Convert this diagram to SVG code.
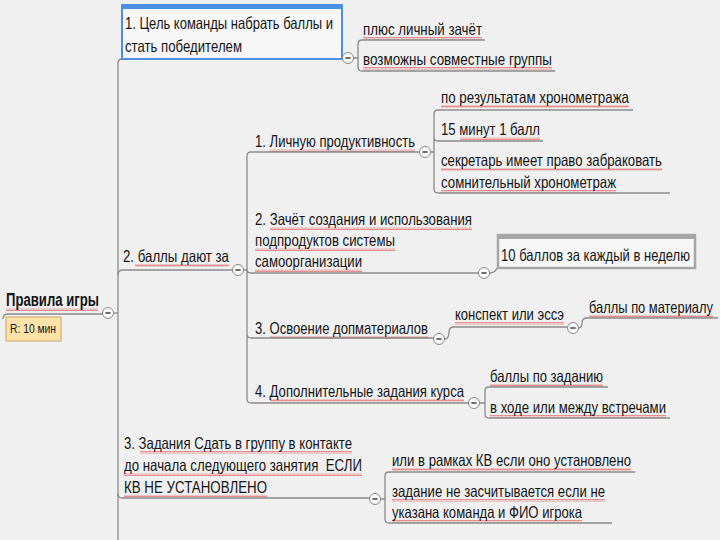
<svg xmlns="http://www.w3.org/2000/svg" width="720" height="540" viewBox="0 0 720 540">
<style>
text{font-family:"Liberation Sans",Arial,sans-serif;font-size:16.5px;fill:#141414}
.b{font-weight:bold;font-size:17.5px}
.s{font-size:12px}
.c{fill:none;stroke:#8a8a8a;stroke-width:1.3}
.t{fill:#fafafa;stroke:#8a8a8a;stroke-width:1}
.m{stroke:#333;stroke-width:1.4}
.w{fill:url(#wv)}
</style>
<defs>
<g id="tg"><circle class="t" cx="0" cy="0" r="5.5"/><line class="m" x1="-2.6" y1="0" x2="2.6" y2="0"/></g>
<pattern id="wv" width="4" height="3" patternUnits="userSpaceOnUse"><path d="M0 2.5 L1 0.5 L2 2.5 L3 0.5 L4 2.5" fill="none" stroke="#e04040" stroke-width="0.7" opacity="0.8"/></pattern>
</defs>
<rect width="720" height="540" fill="#f0f0f0"/>
<g id="spellmarks">
<rect class="w" x="6" y="308" width="92" height="3"/>
<rect class="w" x="140" y="31" width="195" height="3"/>
<rect class="w" x="125" y="54" width="117" height="3"/>
<rect class="w" x="363" y="37" width="119" height="3"/>
<rect class="w" x="363" y="67" width="189" height="3"/>
<rect class="w" x="135" y="264" width="94" height="3"/>
<rect class="w" x="270" y="149" width="145" height="3"/>
<rect class="w" x="441" y="105" width="188" height="3"/>
<rect class="w" x="460" y="137" width="80" height="3"/>
<rect class="w" x="441" y="168" width="221" height="3"/>
<rect class="w" x="441" y="190" width="175" height="3"/>
<rect class="w" x="270" y="227" width="202" height="3"/>
<rect class="w" x="255" y="248" width="140" height="3"/>
<rect class="w" x="255" y="269" width="107" height="3"/>
<rect class="w" x="520" y="263" width="170" height="3"/>
<rect class="w" x="270" y="336" width="158" height="3"/>
<rect class="w" x="455" y="322" width="109" height="3"/>
<rect class="w" x="589" y="315" width="124" height="3"/>
<rect class="w" x="270" y="399" width="194" height="3"/>
<rect class="w" x="490" y="384" width="113" height="3"/>
<rect class="w" x="490" y="415" width="176" height="3"/>
<rect class="w" x="140" y="451" width="212" height="3"/>
<rect class="w" x="124" y="473" width="238" height="3"/>
<rect class="w" x="124" y="495" width="143" height="3"/>
<rect class="w" x="392" y="468" width="239" height="3"/>
<rect class="w" x="392" y="499" width="213" height="3"/>
<rect class="w" x="392" y="520" width="190" height="3"/>
</g>
<g id="connectors">
<path class="c" d="M122 59 Q118 59 118 63 L118 540"/>
<path class="c" d="M113.5 313 L118 313"/>
<path class="c" d="M3 319 Q3 314 8 314 L103 314"/>
<path class="c" d="M353.5 58 L358 58 M362 40 Q358 40 358 44 L358 67 Q358 71 362 71 M362 40 L485 40 M362 71 L555 71"/>
<path class="c" d="M118 275 Q118 270 123 270 L232.5 270"/>
<path class="c" d="M243.5 270 L247 270 M251 152 Q247 152 247 156 L247 399 Q247 403 251 403 L468.5 403 M251 152 L419.5 152 M247 269 Q247 273 251 273 L478.5 273 M247 334 Q247 338 251 338 L433.5 338"/>
<path class="c" d="M430.5 152 L434 152 M438 110 Q434 110 434 114 L434 189 Q434 193 438 193 L670 193 M438 110 L633 110 M434 137 Q434 141 438 141 L543 141"/>
<path class="c" d="M489.5 273 Q495 273 497 268"/>
<path class="c" d="M444.5 339 Q449 339 449 332 Q449 327 454 327 L567.5 327"/>
<path class="c" d="M578.5 328 Q582 328 582 323 Q582 318 587 318 L718 318"/>
<path class="c" d="M479.5 403 L485 403 M489 387 Q485 387 485 391 L485 414 Q485 418 489 418 L670 418 M489 387 L608 387"/>
<path class="c" d="M118 494 Q118 498 122 498 L369.5 498"/>
<path class="c" d="M380.5 499 L385 499 M389 472 Q385 472 385 476 L385 519 Q385 523 389 523 L612 523 M389 472 L635 472"/>
</g>
<g id="root">
<text class="b" x="6" y="306" textLength="93" lengthAdjust="spacingAndGlyphs">Правила игры</text>
<use href="#tg" x="108" y="313"/>
<rect x="6" y="317" width="55" height="24" fill="#fde3a7" stroke="#c9a468" stroke-width="1"/>
<text class="s" x="10" y="333" textLength="46" lengthAdjust="spacingAndGlyphs">R: 10 мин</text>
</g>
<g id="n1">
<rect x="122" y="5" width="220" height="54" fill="#f7f7f7" stroke="#4a8fe0" stroke-width="2"/>
<rect x="122" y="5" width="220" height="4" fill="#4a8fe0"/>
<text x="125" y="29" textLength="208" lengthAdjust="spacingAndGlyphs">1. Цель команды набрать баллы и</text>
<text x="125" y="52" textLength="117" lengthAdjust="spacingAndGlyphs">стать победителем</text>
<use href="#tg" x="348" y="58"/>
</g>
<g id="n1a"><text x="363" y="35" textLength="119" lengthAdjust="spacingAndGlyphs">плюс личный зачёт</text></g>
<g id="n1b"><text x="363" y="65" textLength="189" lengthAdjust="spacingAndGlyphs">возможны совместные группы</text></g>
<g id="n2">
<text x="123" y="262" textLength="106" lengthAdjust="spacingAndGlyphs">2. баллы дают за</text>
<use href="#tg" x="238" y="270"/>
</g>
<g id="n21">
<text x="255" y="147" textLength="160" lengthAdjust="spacingAndGlyphs">1. Личную продуктивность</text>
<use href="#tg" x="425" y="152"/>
</g>
<g id="n211"><text x="441" y="103" textLength="188" lengthAdjust="spacingAndGlyphs">по результатам хронометража</text></g>
<g id="n212"><text x="441" y="135" textLength="99" lengthAdjust="spacingAndGlyphs">15 минут 1 балл</text></g>
<g id="n213">
<text x="441" y="166" textLength="221" lengthAdjust="spacingAndGlyphs">секретарь имеет право забраковать</text>
<text x="441" y="188" textLength="175" lengthAdjust="spacingAndGlyphs">сомнительный хронометраж</text>
</g>
<g id="n22">
<text x="255" y="225" textLength="217" lengthAdjust="spacingAndGlyphs">2. Зачёт создания и использования</text>
<text x="255" y="246" textLength="140" lengthAdjust="spacingAndGlyphs">подпродуктов системы</text>
<text x="255" y="267" textLength="107" lengthAdjust="spacingAndGlyphs">самоорганизации</text>
<use href="#tg" x="484" y="273"/>
</g>
<g id="n221">
<rect x="498" y="235" width="197" height="33" fill="#f7f7f7" stroke="#a6a6a6" stroke-width="2.5"/>
<rect x="498" y="235" width="197" height="4" fill="#a6a6a6"/>
<text x="501" y="261" textLength="189" lengthAdjust="spacingAndGlyphs">10 баллов за каждый в неделю</text>
</g>
<g id="n23">
<text x="255" y="334" textLength="173" lengthAdjust="spacingAndGlyphs">3. Освоение допматериалов</text>
<use href="#tg" x="439" y="339"/>
</g>
<g id="n231">
<text x="455" y="320" textLength="109" lengthAdjust="spacingAndGlyphs">конспект или эссэ</text>
<use href="#tg" x="573" y="328"/>
</g>
<g id="n2311"><text x="589" y="313" textLength="124" lengthAdjust="spacingAndGlyphs">баллы по материалу</text></g>
<g id="n24">
<text x="255" y="397" textLength="209" lengthAdjust="spacingAndGlyphs">4. Дополнительные задания курса</text>
<use href="#tg" x="474" y="403"/>
</g>
<g id="n241"><text x="490" y="382" textLength="113" lengthAdjust="spacingAndGlyphs">баллы по заданию</text></g>
<g id="n242"><text x="490" y="413" textLength="176" lengthAdjust="spacingAndGlyphs">в ходе или между встречами</text></g>
<g id="n3">
<text x="124" y="449" textLength="228" lengthAdjust="spacingAndGlyphs">3. Задания Сдать в группу в контакте</text>
<text x="124" y="471" textLength="238" lengthAdjust="spacingAndGlyphs" xml:space="preserve">до начала следующего занятия  ЕСЛИ</text>
<text x="124" y="493" textLength="143" lengthAdjust="spacingAndGlyphs">КВ НЕ УСТАНОВЛЕНО</text>
<use href="#tg" x="375" y="499"/>
</g>
<g id="n31"><text x="392" y="466" textLength="239" lengthAdjust="spacingAndGlyphs">или в рамках КВ если оно установлено</text></g>
<g id="n32">
<text x="392" y="497" textLength="213" lengthAdjust="spacingAndGlyphs">задание не засчитывается если не</text>
<text x="392" y="518" textLength="190" lengthAdjust="spacingAndGlyphs">указана команда и ФИО игрока</text>
</g>
</svg>
